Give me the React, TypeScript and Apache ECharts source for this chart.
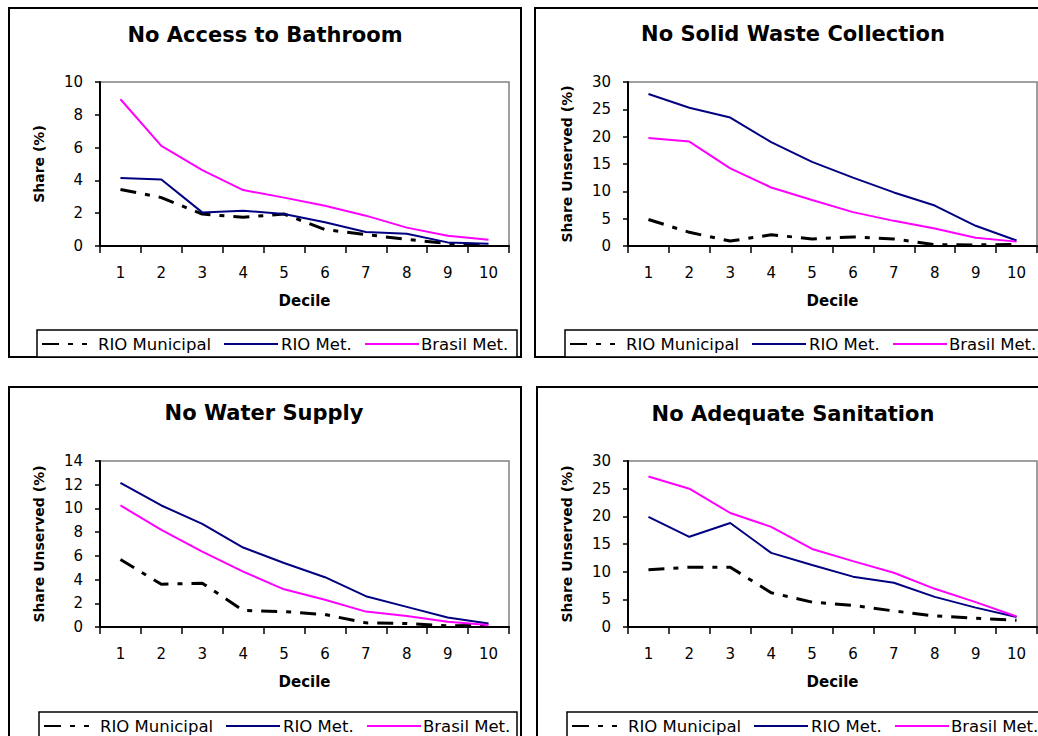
import React, { useEffect, useRef } from "react";
import * as echarts from "echarts";

const deciles = ["1", "2", "3", "4", "5", "6", "7", "8", "9", "10"];
const seriesNames = ["RIO Municipal", "RIO Met.", "Brasil Met."];
const titles = ["No Access to Bathroom", "No Solid Waste Collection", "No Water Supply", "No Adequate Sanitation"];
const yNames = ["Share (%)", "Share Unserved (%)", "Share Unserved (%)", "Share Unserved (%)"];
const yMax = [10, 30, 14, 30];
const yInterval = [2, 5, 2, 5];

const bathMunicipal = [3.45, 2.95, 1.95, 1.75, 1.95, 1.0, 0.7, 0.4, 0.15, 0.06];
const bathRioMet = [4.15, 4.05, 2.05, 2.15, 1.95, 1.45, 0.85, 0.75, 0.22, 0.14];
const bathBrasil = [8.95, 6.1, 4.63, 3.41, 2.95, 2.45, 1.85, 1.12, 0.63, 0.38];

const wasteMunicipal = [4.85, 2.5, 0.9, 2.05, 1.3, 1.65, 1.3, 0.25, 0.2, 0.3];
const wasteRioMet = [27.8, 25.3, 23.5, 19.0, 15.4, 12.5, 9.8, 7.4, 3.7, 1.0];
const wasteBrasil = [19.75, 19.1, 14.2, 10.7, 8.4, 6.2, 4.6, 3.2, 1.5, 0.8];

const waterMunicipal = [5.7, 3.6, 3.7, 1.4, 1.3, 1.05, 0.35, 0.3, 0.1, 0.15];
const waterRioMet = [12.15, 10.25, 8.7, 6.7, 5.4, 4.2, 2.6, 1.7, 0.8, 0.3];
const waterBrasil = [10.25, 8.2, 6.35, 4.67, 3.18, 2.3, 1.3, 0.93, 0.45, 0.17];

const sanMunicipal = [10.35, 10.8, 10.8, 6.2, 4.5, 3.9, 2.9, 2.0, 1.6, 1.2];
const sanRioMet = [19.9, 16.3, 18.8, 13.4, 11.2, 9.1, 8.0, 5.45, 3.5, 1.8];
const sanBrasil = [27.2, 25.0, 20.6, 18.1, 14.1, 11.9, 9.8, 6.9, 4.5, 1.9];

const panelData = [
  [bathMunicipal, bathRioMet, bathBrasil],
  [wasteMunicipal, wasteRioMet, wasteBrasil],
  [waterMunicipal, waterRioMet, waterBrasil],
  [sanMunicipal, sanRioMet, sanBrasil],
];

const FONT = "DejaVu Sans";

// layout (pixels)
const layout = [
  { grid: { left: 100, top: 82, width: 409, height: 164 }, title: [265, 35], legend: [37, 330, 480], box: [9, 8, 512, 349] },
  { grid: { left: 628, top: 82, width: 409, height: 164 }, title: [793, 34], legend: [565, 330, 520], box: [535, 8, 530, 349] },
  { grid: { left: 100, top: 461, width: 409, height: 166 }, title: [264, 413], legend: [39, 712, 478], box: [9, 387, 512, 370] },
  { grid: { left: 628, top: 461, width: 409, height: 166 }, title: [793, 414], legend: [567, 712, 520], box: [537, 387, 530, 370] },
];
// legend item offsets relative to legend box left: [sampleStart, sampleEnd, textStart]
const legendSlots = [
  [5, 59, 61],
  [187, 241, 244],
  [328, 382, 384],
];

const lineStyles = [
  { color: "#000000", width: 3, type: [16, 9, 5, 9] },
  { color: "#000080", width: 2, type: "solid" },
  { color: "#FF00FF", width: 2, type: "solid" },
];
const legendDash = [[17, 9, 5, 9, 5, 9], null, null];

export default function App() {
  const ref = useRef<HTMLDivElement>(null);
  useEffect(() => {
    if (!ref.current) return;
    const chart = echarts.init(ref.current, null, { renderer: "svg" });

    const grids: any[] = [];
    const xAxes: any[] = [];
    const yAxes: any[] = [];
    const series: any[] = [];
    const graphics: any[] = [];

    layout.forEach((p, i) => {
      graphics.push({
        type: "rect",
        shape: { x: p.box[0], y: p.box[1], width: p.box[2], height: p.box[3] },
        style: { fill: "none", stroke: "#000", lineWidth: 2 },
        silent: true,
        z: 0,
      });
      graphics.push({
        type: "text",
        x: p.title[0],
        y: p.title[1],
        style: {
          text: titles[i],
          align: "center",
          verticalAlign: "middle",
          fontFamily: FONT,
          fontWeight: "bold",
          fontSize: 21,
          fill: "#000",
        },
        z: 10,
      });
      // legend box
      const [lx, ly, lw] = p.legend;
      graphics.push({
        type: "rect",
        shape: { x: lx, y: ly, width: lw, height: 27 },
        style: { fill: "#fff", stroke: "#000", lineWidth: 1.5 },
        silent: true,
        z: 20,
      });
      seriesNames.forEach((nm, k) => {
        const [s0, s1, t0] = legendSlots[k];
        const st: any = { stroke: lineStyles[k].color, lineWidth: 2 };
        if (legendDash[k]) st.lineDash = legendDash[k];
        graphics.push({
          type: "line",
          shape: { x1: lx + s0, y1: ly + 14, x2: lx + s1, y2: ly + 14 },
          style: st,
          silent: true,
          z: 21,
        });
        graphics.push({
          type: "text",
          x: lx + t0,
          y: ly + 14,
          style: {
            text: nm,
            align: "left",
            verticalAlign: "middle",
            fontFamily: FONT,
            fontSize: 16.5,
            fill: "#000",
          },
          silent: true,
          z: 21,
        });
      });

      grids.push({
        ...p.grid,
        show: true,
        borderColor: "#808080",
        borderWidth: 1.5,
        backgroundColor: "#fff",
      });
      xAxes.push({
        type: "category",
        gridIndex: i,
        data: deciles,
        boundaryGap: true,
        name: "Decile",
        nameLocation: "middle",
        nameGap: 47,
        nameTextStyle: { fontFamily: FONT, fontWeight: "bold", fontSize: 15, color: "#000" },
        axisLine: { show: true, lineStyle: { color: "#000", width: 2 } },
        axisTick: { show: true, length: 7, lineStyle: { color: "#000", width: 1.5 } },
        axisLabel: { fontFamily: FONT, fontSize: 15, color: "#000", margin: 19 },
        splitLine: { show: false },
      });
      yAxes.push({
        type: "value",
        gridIndex: i,
        min: 0,
        max: yMax[i],
        interval: yInterval[i],
        name: yNames[i],
        nameLocation: "middle",
        nameRotate: 90,
        nameGap: 54,
        nameTextStyle: { fontFamily: FONT, fontWeight: "bold", fontSize: 14, color: "#000" },
        axisLine: { show: true, lineStyle: { color: "#000", width: 2 } },
        axisTick: { show: true, length: 5, lineStyle: { color: "#000", width: 1.5 } },
        axisLabel: { fontFamily: FONT, fontSize: 15, color: "#000", margin: 17 },
        splitLine: { show: false },
      });
      panelData[i].forEach((vals, k) => {
        series.push({
          type: "line",
          name: seriesNames[k],
          xAxisIndex: i,
          yAxisIndex: i,
          data: vals,
          symbol: "none",
          lineStyle: lineStyles[k],
          itemStyle: { color: lineStyles[k].color },
          z: 3 + k,
        });
      });
    });

    chart.setOption({
      animation: false,
      backgroundColor: "#fff",
      grid: grids,
      xAxis: xAxes,
      yAxis: yAxes,
      series,
      graphic: graphics,
    });
    return () => chart.dispose();
  }, []);
  return (
    <div
      ref={ref}
      style={{ position: "fixed", left: 0, top: 0, width: 1038, height: 736, background: "#fff" }}
    />
  );
}
